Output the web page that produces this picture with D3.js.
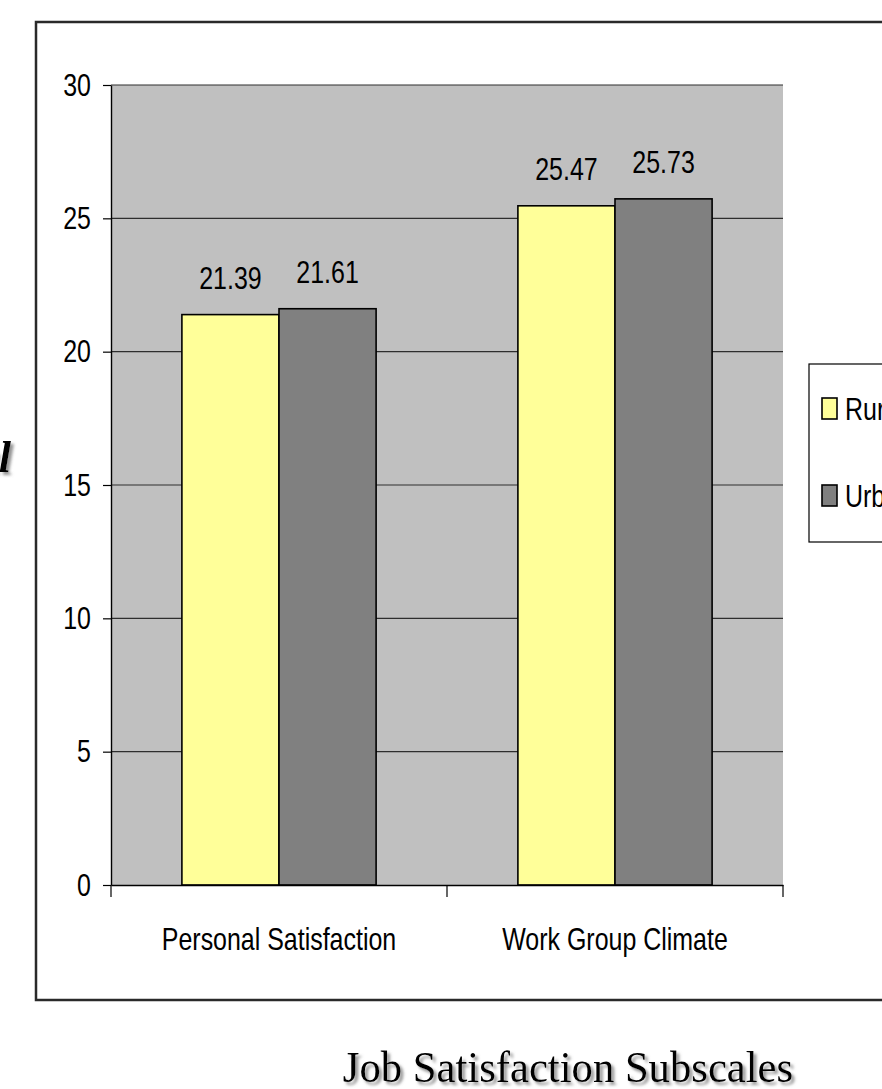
<!DOCTYPE html>
<html>
<head>
<meta charset="utf-8">
<script src="https://cdn.jsdelivr.net/npm/d3@7"></script>
<style>
  body { margin: 0; background: #fff; }
  svg { display: block; }
  .sans { font-family: "Liberation Sans", Arial, sans-serif; }
</style>
</head>
<body>
<svg id="chart"></svg>
<script>
// chart data
const categories = ['Personal Satisfaction', 'Work Group Climate']
const seriesNames = ['Rural', 'Urban']
const ruralValues = [21.39, 25.47]
const urbanValues = [21.61, 25.73]
const yTicks = [0, 5, 10, 15, 20, 25, 30]
const chartTitle = 'Job Satisfaction Subscales'

const colors = { Rural: '#FFFF99', Urban: '#808080' }
const squeeze = 0.78 // the chart text is a narrow face

const W = 882, H = 1089
const plot = { left: 111, right: 783, top: 85, bottom: 885 }

const svg = d3.select('#chart').attr('width', W).attr('height', H)

const defs = svg.append('defs')
defs.append('filter').attr('id', 'shadow')
    .attr('x', '-10%').attr('y', '-30%').attr('width', '120%').attr('height', '160%')
  .append('feDropShadow')
    .attr('dx', 3).attr('dy', 3).attr('stdDeviation', 1.6)
    .attr('flood-color', '#777').attr('flood-opacity', 0.8)

// outer frame (runs off the right edge)
svg.append('rect')
    .attr('x', 36).attr('y', 22)
    .attr('width', 900).attr('height', 978)
    .attr('fill', 'none').attr('stroke', '#2a2a2a').attr('stroke-width', 2.5)

// fragment of a cut off label at the left edge
svg.append('text')
    .attr('x', 11).attr('y', 472)
    .attr('text-anchor', 'end')
    .attr('font-family', '"Liberation Serif", "Times New Roman", serif')
    .attr('font-style', 'italic').attr('font-weight', 'bold')
    .attr('font-size', 44)
    .attr('filter', 'url(#shadow)')
    .text('Total')

const y = d3.scaleLinear().domain([0, 30]).range([plot.bottom, plot.top])
const x0 = d3.scaleBand().domain(categories).range([plot.left, plot.right])
const bw = x0.bandwidth()
const x1 = d3.scaleBand().domain(seriesNames).range([bw * 0.211, bw * 0.789])

const data = categories.map((c, i) => ({
    category: c,
    values: [
        { series: 'Rural', value: ruralValues[i] },
        { series: 'Urban', value: urbanValues[i] }
    ]
}))

// plot background
svg.append('rect')
    .attr('x', plot.left).attr('y', plot.top)
    .attr('width', plot.right - plot.left).attr('height', plot.bottom - plot.top)
    .attr('fill', '#C0C0C0')

// gridlines
svg.append('g').selectAll('line')
    .data(yTicks.filter(d => d > 0))
    .join('line')
        .attr('x1', plot.left).attr('x2', plot.right)
        .attr('y1', d => y(d)).attr('y2', d => y(d))
        .attr('stroke', '#2e2e2e').attr('stroke-width', 1.2)

// bars
const groups = svg.append('g').selectAll('g')
    .data(data)
    .join('g')
        .attr('transform', d => `translate(${x0(d.category)},0)`)

groups.selectAll('rect')
    .data(d => d.values)
    .join('rect')
        .attr('x', d => x1(d.series))
        .attr('y', d => y(d.value))
        .attr('width', x1.bandwidth())
        .attr('height', d => y(0) - y(d.value))
        .attr('fill', d => colors[d.series])
        .attr('stroke', '#000').attr('stroke-width', 1.6)

groups.selectAll('text')
    .data(d => d.values)
    .join('text')
        .attr('class', 'sans')
        .attr('font-size', 32)
        .attr('text-anchor', 'middle')
        .attr('transform', d => `translate(${x1(d.series) + x1.bandwidth() / 2},${y(d.value) - 26}) scale(${squeeze},1)`)
        .text(d => d.value.toFixed(2))

// y axis
const yAxis = d3.axisLeft(y).tickValues(yTicks).tickSize(8).tickSizeOuter(0)
const yAxisGroup = svg.append('g')
    .attr('transform', `translate(${plot.left},0)`)
    .call(yAxis)
yAxisGroup.select('.domain').attr('stroke', '#000').attr('stroke-width', 1.4)
yAxisGroup.selectAll('.tick line').attr('stroke', '#000').attr('stroke-width', 1.2)
yAxisGroup.selectAll('.tick text')
    .attr('class', 'sans')
    .attr('x', null).attr('dy', null)
    .attr('font-size', 32).attr('fill', '#000')
    .attr('transform', `translate(-20,10) scale(${squeeze},1)`)

// x axis
const xAxis = d3.axisBottom(x0).tickSize(0).tickSizeOuter(0)
const xAxisGroup = svg.append('g')
    .attr('transform', `translate(0,${plot.bottom})`)
    .call(xAxis)
xAxisGroup.select('.domain').attr('stroke', '#000').attr('stroke-width', 1.4)
xAxisGroup.selectAll('.tick text')
    .attr('class', 'sans')
    .attr('y', null).attr('dy', null)
    .attr('font-size', 32).attr('fill', '#000')
    .attr('transform', `translate(0,65) scale(${squeeze},1)`)

// category dividers below the axis
xAxisGroup.selectAll('.divider')
    .data([...categories.map(c => x0(c)), plot.right])
    .join('line')
        .attr('class', 'divider')
        .attr('x1', d => d).attr('x2', d => d)
        .attr('y1', 0).attr('y2', 12)
        .attr('stroke', '#000').attr('stroke-width', 1.2)

// legend (cut off at the right edge)
const legend = svg.append('g').attr('transform', 'translate(809,364)')
legend.append('rect')
    .attr('width', 120).attr('height', 178)
    .attr('fill', '#fff').attr('stroke', '#000').attr('stroke-width', 1.2)

const legendItems = legend.selectAll('g')
    .data(seriesNames)
    .join('g')
        .attr('transform', (d, i) => `translate(13,${34 + i * 87})`)
legendItems.append('rect')
    .attr('width', 15).attr('height', 21)
    .attr('fill', d => colors[d])
    .attr('stroke', '#000').attr('stroke-width', 1.6)
legendItems.append('text')
    .attr('class', 'sans')
    .attr('font-size', 32)
    .attr('transform', `translate(23,22) scale(${squeeze},1)`)
    .text(d => d)

// title below the frame
svg.append('text')
    .attr('font-family', '"Liberation Serif", "Times New Roman", serif')
    .attr('font-size', 44)
    .attr('text-anchor', 'middle')
    .attr('filter', 'url(#shadow)')
    .attr('transform', 'translate(568,1082) scale(0.97,1)')
    .text(chartTitle)
</script>
</body>
</html>
